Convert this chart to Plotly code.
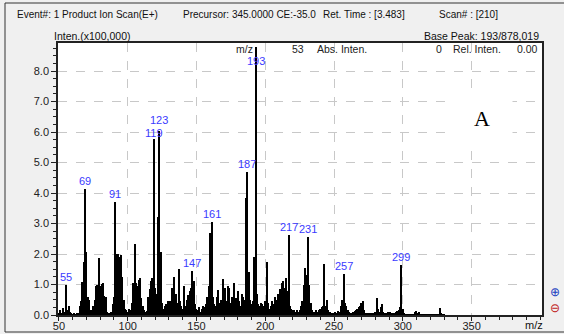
import plotly.graph_objects as go

# ---- data (intensity in units of 100,000) ----
mz = list(range(50, 331))
inten = [
    0.05, 0.15, 0.05, 0.22, 0.10, 0.98, 0.15, 0.30, 0.10, 0.05,   # 50-59
    0.03, 0.04, 0.03, 0.08, 0.05, 0.30, 0.45, 1.07, 1.75, 4.13,   # 60-69
    2.08, 0.60, 0.50, 0.15, 0.08, 0.30, 0.50, 0.95, 1.00, 1.88,   # 70-79
    0.95, 1.02, 1.05, 0.62, 0.60, 0.10, 0.05, 0.08, 0.10, 0.35,   # 80-89
    0.60, 3.71, 2.00, 2.00, 1.90, 1.98, 1.25, 0.50, 0.20, 0.15,   # 90-99
    0.10, 0.20, 0.15, 0.40, 1.05, 2.33, 1.05, 0.95, 1.15, 1.20,   # 100-109
    0.55, 0.30, 0.15, 0.10, 0.12, 0.60, 0.85, 1.10, 1.20, 5.77,   # 110-119
    0.90, 0.70, 3.20, 6.05, 2.07, 0.40, 0.20, 0.30, 0.35, 0.45,   # 120-129
    0.40, 0.45, 0.90, 0.55, 1.26, 0.70, 0.40, 1.50, 0.45, 0.30,   # 130-139
    0.20, 0.95, 0.30, 0.50, 0.65, 0.80, 0.90, 1.45, 1.10, 0.35,   # 140-149
    0.20, 0.15, 0.25, 0.10, 0.20, 0.30, 0.25, 0.35, 0.60, 0.95,   # 150-159
    2.68, 3.06, 0.60, 0.35, 0.30, 0.60, 0.82, 0.40, 0.50, 1.18,   # 160-169
    0.30, 0.90, 0.45, 0.95, 0.90, 0.40, 0.60, 1.05, 0.50, 0.55,   # 170-179
    0.80, 0.45, 0.30, 0.70, 0.60, 0.50, 3.83, 4.69, 1.42, 0.50,   # 180-189
    0.35, 0.45, 1.90, 8.78, 0.70, 0.35, 0.30, 0.40, 0.35, 0.30,   # 190-199
    0.45, 1.75, 0.40, 0.20, 0.30, 0.45, 0.35, 0.60, 0.50, 0.70,   # 200-209
    0.55, 0.85, 1.05, 1.10, 0.90, 1.20, 0.80, 2.62, 0.30, 0.20,   # 210-219
    0.15, 0.15, 0.10, 0.15, 0.10, 0.15, 0.30, 0.45, 1.00, 1.53,   # 220-229
    1.30, 2.57, 1.00, 0.40, 0.15, 0.10, 0.10, 0.15, 0.10, 0.15,   # 230-239
    0.20, 0.25, 0.30, 1.67, 0.30, 0.50, 0.15, 0.10, 0.05, 0.08,   # 240-249
    0.06, 0.10, 0.08, 0.12, 0.10, 0.30, 0.50, 1.35, 0.40, 0.30,   # 250-259
    0.15, 0.10, 0.08, 0.05, 0.10, 0.12, 0.15, 0.20, 0.25, 0.30,   # 260-269
    0.40, 0.45, 0.15, 0.05, 0.05, 0.05, 0.04, 0.05, 0.05, 0.06,   # 270-279
    0.10, 0.55, 0.20, 0.10, 0.25, 0.35, 0.10, 0.05, 0.05, 0.10,   # 280-289
    0.08, 0.10, 0.05, 0.05, 0.08, 0.10, 0.12, 0.15, 0.25, 1.64,   # 290-299
    0.20, 0.05, 0.03, 0.03, 0.03, 0.03, 0.03, 0.03, 0.03, 0.10,   # 300-309
    0.12, 0.05, 0.10, 0.02, 0.02, 0.02, 0.02, 0.02, 0.02, 0.02,   # 310-319
    0.02, 0.02, 0.02, 0.02, 0.02, 0.02, 0.02, 0.22, 0.05, 0.02,   # 320-329
    0.02,                                                         # 330
]
labeled_mz = [55, 69, 91, 119, 123, 147, 161, 187, 193, 217, 231, 257, 299]
x_ticks = [50, 100, 150, 200, 250, 300, 350]
y_ticks = [0, 1, 2, 3, 4, 5, 6, 7, 8]

header_parts = ["Event#: 1 Product Ion Scan(E+)", "Precursor: 345.0000 CE:-35.0",
                "Ret. Time : [3.483]", "Scan# : [210]"]
y_title = "Inten.(x100,000)"
base_peak = "Base Peak: 193/878,019"
readout = ["m/z", "53", "Abs. Inten.", "0", "Rel. Inten.", "0.00"]

FONT = "Liberation Sans, Arial, sans-serif"
BLUE = "#3a3aff"
L, R, T, B = 58, 22, 43, 19
W, H = 564, 334
PW, PH = W - L - R, H - T - B


def px(x):  # figure pixel -> paper x
    return (x - L) / PW


def py(y):  # figure pixel -> paper y
    return (H - B - y) / PH


fig = go.Figure()
fig.add_trace(go.Bar(x=mz, y=inten, width=0.85,
                     marker=dict(color="black", line=dict(width=0)),
                     hoverinfo="x+y"))

# peak labels
peak_map = dict(zip(mz, inten))
for m in labeled_mz:
    if m == 193:
        fig.add_annotation(x=m, y=peak_map[m], text=str(m), showarrow=False,
                           yanchor="top", yshift=-6,
                           font=dict(family=FONT, size=11, color=BLUE))
        continue
    ys = 3 if m == 123 else (-2 if m == 119 else 0)
    fig.add_annotation(x=m, y=peak_map[m], text=str(m), showarrow=False,
                       yanchor="bottom", yshift=ys,
                       font=dict(family=FONT, size=11, color=BLUE))

# cursor readout row inside plot
row_pos = [(255, "right"), (298, "center"), (342, "center"),
           (439, "center"), (477, "center"), (540, "right")]
for txt, (xx, anc) in zip(readout, row_pos):
    fig.add_annotation(xref="paper", yref="paper", x=px(xx), y=py(49), text=txt,
                       showarrow=False, xanchor=anc, yanchor="middle",
                       font=dict(family=FONT, size=10.5, color="#222"))

# header
for txt, xx in zip(header_parts, [15, 181, 321, 437]):
    fig.add_annotation(xref="paper", yref="paper", x=px(xx), y=py(15), text=txt,
                       showarrow=False, xanchor="left", yanchor="middle",
                       font=dict(family=FONT, size=10, color="#111"))
fig.add_annotation(xref="paper", yref="paper", x=px(52), y=py(36), text=y_title,
                   showarrow=False, xanchor="left", yanchor="middle",
                   font=dict(family=FONT, size=10.5, color="#111"))
fig.add_annotation(xref="paper", yref="paper", x=px(541), y=py(36), text=base_peak,
                   showarrow=False, xanchor="right", yanchor="middle",
                   font=dict(family=FONT, size=10.5, color="#111"))
fig.add_annotation(xref="paper", yref="paper", x=px(534), y=py(325), text="m/z",
                   showarrow=False, xanchor="center", yanchor="middle",
                   font=dict(family=FONT, size=11, color="#111"))

# panel letter with white box covering gridlines
fig.add_annotation(xref="paper", yref="paper", x=px(482), y=py(118), text="A",
                   showarrow=False, xanchor="center", yanchor="middle",
                   bgcolor="white", width=58, height=54,
                   font=dict(family="Liberation Serif, Times New Roman, serif", size=22, color="black"))

# zoom icons
fig.add_annotation(xref="paper", yref="paper", x=px(548), y=py(292), text="⊕",
                   showarrow=False, xanchor="left", yanchor="middle",
                   font=dict(size=12, color="#2040c0"))
fig.add_annotation(xref="paper", yref="paper", x=px(548), y=py(308), text="⊖",
                   showarrow=False, xanchor="left", yanchor="middle",
                   font=dict(size=12, color="#c02020"))

# outer frame
fig.add_shape(type="rect", xref="paper", yref="paper",
              x0=px(5), x1=px(600), y0=py(332), y1=py(3),
              line=dict(color="#333", width=1), fillcolor="rgba(0,0,0,0)", layer="below")

fig.update_layout(
    width=W, height=H,
    margin=dict(l=L, r=R, t=T, b=B, autoexpand=False),
    paper_bgcolor="#f0f0f0", plot_bgcolor="white",
    showlegend=False, bargap=0,
    font=dict(family=FONT, size=11, color="#222"),
)
fig.update_xaxes(range=[49.3, 401.2], tickvals=x_ticks, ticktext=[str(v) for v in x_ticks],
                 automargin=False, ticklabelstandoff=-4,
                 showgrid=True, gridcolor="#c8c8c8", griddash="dash", gridwidth=1,
                 zeroline=False, showline=True, linecolor="#222", linewidth=1.5, mirror=True,
                 ticks="outside", ticklen=4, tickcolor="#222",
                 minor=dict(dtick=10, tick0=50, ticks="outside", ticklen=3, tickcolor="#222", showgrid=False),
                 tickfont=dict(family=FONT, size=11, color="#222"))
fig.update_yaxes(range=[0, 8.92], tickvals=y_ticks, ticktext=[f"{v:.1f}" for v in y_ticks],
                 automargin=False,
                 showgrid=True, gridcolor="#c8c8c8", griddash="dash", gridwidth=1,
                 zeroline=False, showline=True, linecolor="#222", linewidth=1.5, mirror=True,
                 ticks="outside", ticklen=5, tickcolor="#222",
                 minor=dict(dtick=0.25, tick0=0, ticks="outside", ticklen=3, tickcolor="#222", showgrid=False),
                 tickfont=dict(family=FONT, size=11, color="#222"))

fig.write_html("out.html", config={"displayModeBar": False},
               post_script="document.body.style.margin='0';document.body.style.overflow='hidden';")
